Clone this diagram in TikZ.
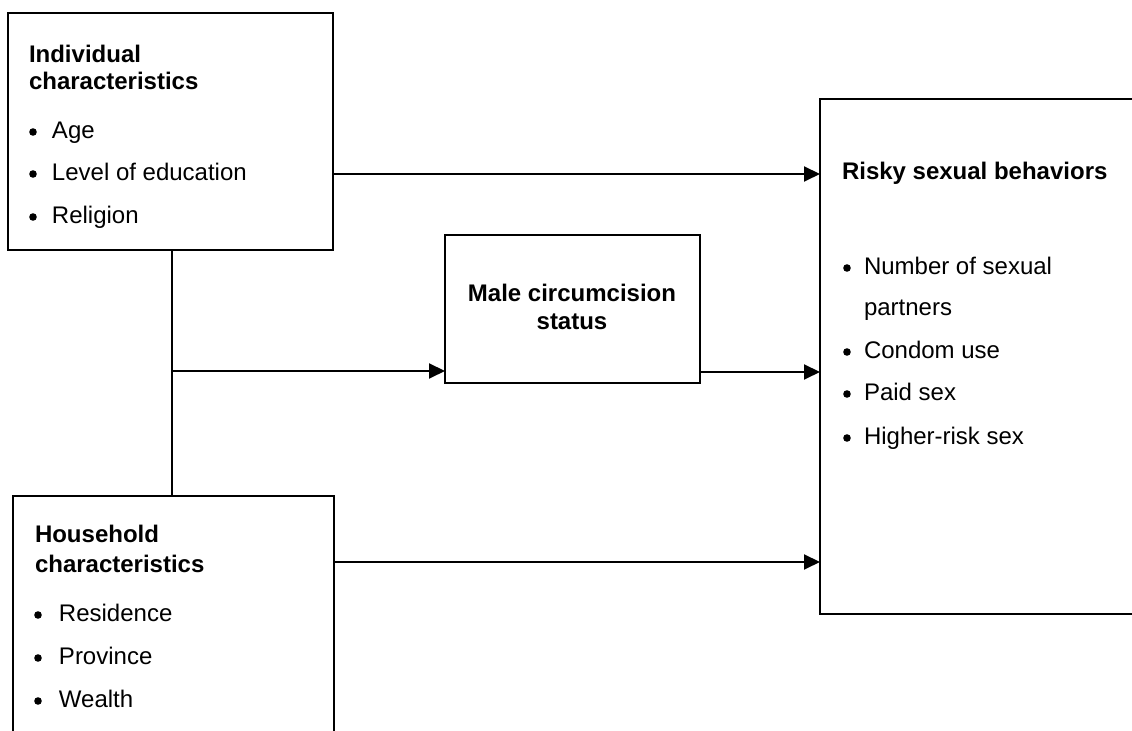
\documentclass[tikz,border=0pt]{standalone}
\usepackage{fontspec}
\setmainfont{Liberation Sans}
\usetikzlibrary{arrows.meta,fit}
\tikzset{
  box/.style={draw, line width=1pt, inner sep=0pt, outer sep=0pt},
  lbl/.style={inner sep=0pt, outer sep=0pt, anchor=base west, font=\fontsize{12}{14}\selectfont},
  ttl/.style={lbl, font=\fontsize{12}{14}\selectfont\bfseries},
  ctr/.style={inner sep=0pt, outer sep=0pt, anchor=base, font=\fontsize{12}{14}\selectfont\bfseries},
  bul/.style={circle, fill, inner sep=0pt, outer sep=0pt, minimum size=3.8pt},
  conn/.style={line width=1pt},
  arr/.style={line width=1pt, -{Triangle[length=8pt,width=7.5pt]}}
}
\begin{document}
\begin{tikzpicture}[x=0.5pt,y=-0.5pt]
\useasboundingbox (0,0) rectangle (1132,731);
% boxes
\node[box, fit={(8,13) (333,250)}] (ind) {};
\node[box, fit={(13,496) (334,750)}] (house) {};
\node[box, fit={(445,235) (700,383)}] (male) {};
\node[box, fit={(820,99) (1150,614)}] (risk) {};
% individual text
\node[ttl] (indT1) at (29,63) {Individual};
\node[ttl] (indT2) at (29,90) {characteristics};
\node[bul] (indB1) at (33,132) {};
\node[lbl] (indI1) at (52,139) {Age};
\node[bul] (indB2) at (33,174) {};
\node[lbl] (indI2) at (52,181) {Level of education};
\node[bul] (indB3) at (33,217) {};
\node[lbl] (indI3) at (52,224) {Religion};
% household text
\node[ttl] (hT1) at (35,543) {Household};
\node[ttl] (hT2) at (35,573) {characteristics};
\node[bul] (hB1) at (38,615) {};
\node[lbl] (hI1) at (59,622) {Residence};
\node[bul] (hB2) at (38,658) {};
\node[lbl] (hI2) at (59,665) {Province};
\node[bul] (hB3) at (38,701) {};
\node[lbl] (hI3) at (59,708) {Wealth};
% male text
\node[ctr] (mT1) at (572,302) {Male circumcision};
\node[ctr] (mT2) at (572,330) {status};
% risk text
\node[ttl] (rT) at (842,180) {Risky sexual behaviors};
\node[bul] (rB1) at (847,268) {};
\node[lbl] (rI1) at (864,275) {Number of sexual};
\node[lbl] (rI1b) at (864,316) {partners};
\node[bul] (rB2) at (847,352) {};
\node[lbl] (rI2) at (864,359) {Condom use};
\node[bul] (rB3) at (847,394) {};
\node[lbl] (rI3) at (864,401) {Paid sex};
\node[bul] (rB4) at (847,438) {};
\node[lbl] (rI4) at (864,445) {Higher-risk sex};
% connectors
\coordinate (j) at (172,371);
\draw[arr] (ind.east |- 0,174) -- (risk.west |- 0,174);
\draw[conn] (ind.south -| j) -- (house.north -| j);
\draw[arr] (j) -- (male.west |- j);
\draw[arr] (male.east |- 0,372) -- (risk.west |- 0,372);
\draw[arr] (house.east |- 0,562) -- (risk.west |- 0,562);
\end{tikzpicture}
\end{document}
